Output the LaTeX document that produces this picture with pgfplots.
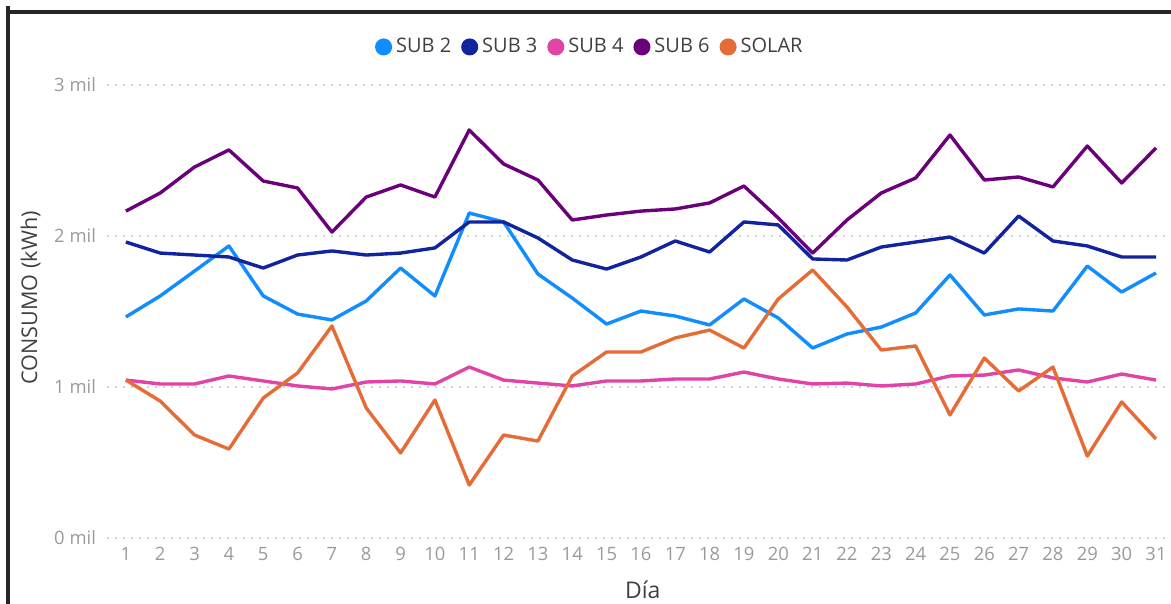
\documentclass[border=0pt]{standalone}
\usepackage{fontspec}
\setmainfont{Open Sans}
\usepackage{pgfplots}
\pgfplotsset{compat=1.18}

\definecolor{sub2}{HTML}{118DFF}
\definecolor{sub3}{HTML}{12239E}
\definecolor{sub4}{HTML}{E044A7}
\definecolor{sub6}{HTML}{6B007B}
\definecolor{solar}{HTML}{E66C37}
\definecolor{ticktxt}{HTML}{9A9A9A}
\definecolor{labtxt}{HTML}{404040}

% dia, consumo (kWh)
\pgfplotstableread{
d  s2   s3   s4   s6   sol
1  1464 1960 1046 2165 1046
2  1603 1887 1020 2285 907
3  1768 1874 1020 2457 682
4  1934 1861 1073 2570 589
5  1603 1788 1040 2364 927
6  1483 1874 1007 2318 1093
7  1444 1901 987  2026 1404
8  1570 1874 1033 2258 861
9  1788 1887 1040 2338 563
10 1603 1921 1020 2258 914
11 2152 2093 1132 2702 351
12 2093 2093 1046 2477 682
13 1748 1987 1026 2371 642
14 1589 1841 1007 2106 1073
15 1417 1781 1040 2139 1232
16 1503 1861 1040 2165 1232
17 1470 1967 1053 2179 1325
18 1411 1894 1053 2219 1377
19 1583 2093 1099 2331 1258
20 1457 2073 1053 2119 1583
21 1258 1848 1020 1887 1775
22 1351 1841 1026 2106 1530
23 1397 1927 1007 2285 1245
24 1490 1960 1020 2384 1272
25 1742 1993 1073 2669 815
26 1477 1887 1079 2371 1192
27 1517 2132 1113 2391 974
28 1503 1967 1060 2325 1132
29 1801 1934 1033 2596 543
30 1629 1861 1086 2351 901
31 1755 1861 1046 2583 656
}\datos

\begin{document}
\begin{tikzpicture}
\path[use as bounding box] (0,0) rectangle (585.5pt,302pt);
% marco de la captura
\draw[line width=1.6pt, black!85] (3.5pt,296pt) -- (585.5pt,296pt);
\draw[line width=1.6pt, black!85] (4pt,299pt) -- (4pt,0pt);
\begin{axis}[
    at={(53.5pt,33pt)}, anchor=south west,
    scale only axis,
    width=530.5pt, height=226.5pt,
    xmin=0.45, xmax=31.35,
    ymin=0, ymax=3000,
    clip=false,
    axis line style={draw=none},
    tick style={draw=none},
    xtick={1,...,31},
    ytick={0,1000,2000,3000},
    yticklabels={0 mil,1 mil,2 mil,3 mil},
    /pgf/number format/assume math mode=true,
    ticklabel style={font=\fontsize{9.2}{11}\selectfont, text=ticktxt},
    yticklabel style={xshift=-2pt},
    xticklabel style={yshift=-1pt},
    ymajorgrids,
    grid style={draw=gray!35, line width=0.8pt, dash pattern=on 0.8pt off 3.2pt},
    xlabel={Día},
    xlabel style={font=\fontsize{11.5}{13}\selectfont, text=labtxt, at={(axis description cs:0.505,-0.115)}, anchor=center},
    ylabel={CONSUMO (kWh)},
    ylabel style={font=\fontsize{10.8}{13}\selectfont, text=labtxt, at={(axis description cs:-0.072,0.53)}, anchor=center, rotate=0},
    legend columns=5,
    legend style={draw=none, fill=none, at={(axis description cs:0.456,1.084)}, anchor=center,
        font=\fontsize{10}{12}\selectfont, text=labtxt,
        /tikz/every even column/.append style={column sep=3pt}},
    legend image code/.code={\fill[#1] (0.24cm,0) circle (3.4pt);},
    legend cell align=left,
    every axis plot/.append style={line width=1.7pt, line join=round, mark=none},
]
\addplot[sub2] table[x=d, y=s2] {\datos};
\addlegendentry{SUB 2}
\addplot[sub3] table[x=d, y=s3] {\datos};
\addlegendentry{SUB 3}
\addplot[sub4] table[x=d, y=s4] {\datos};
\addlegendentry{SUB 4}
\addplot[sub6] table[x=d, y=s6] {\datos};
\addlegendentry{SUB 6}
\addplot[solar] table[x=d, y=sol] {\datos};
\addlegendentry{SOLAR}
\end{axis}
\end{tikzpicture}
\end{document}
